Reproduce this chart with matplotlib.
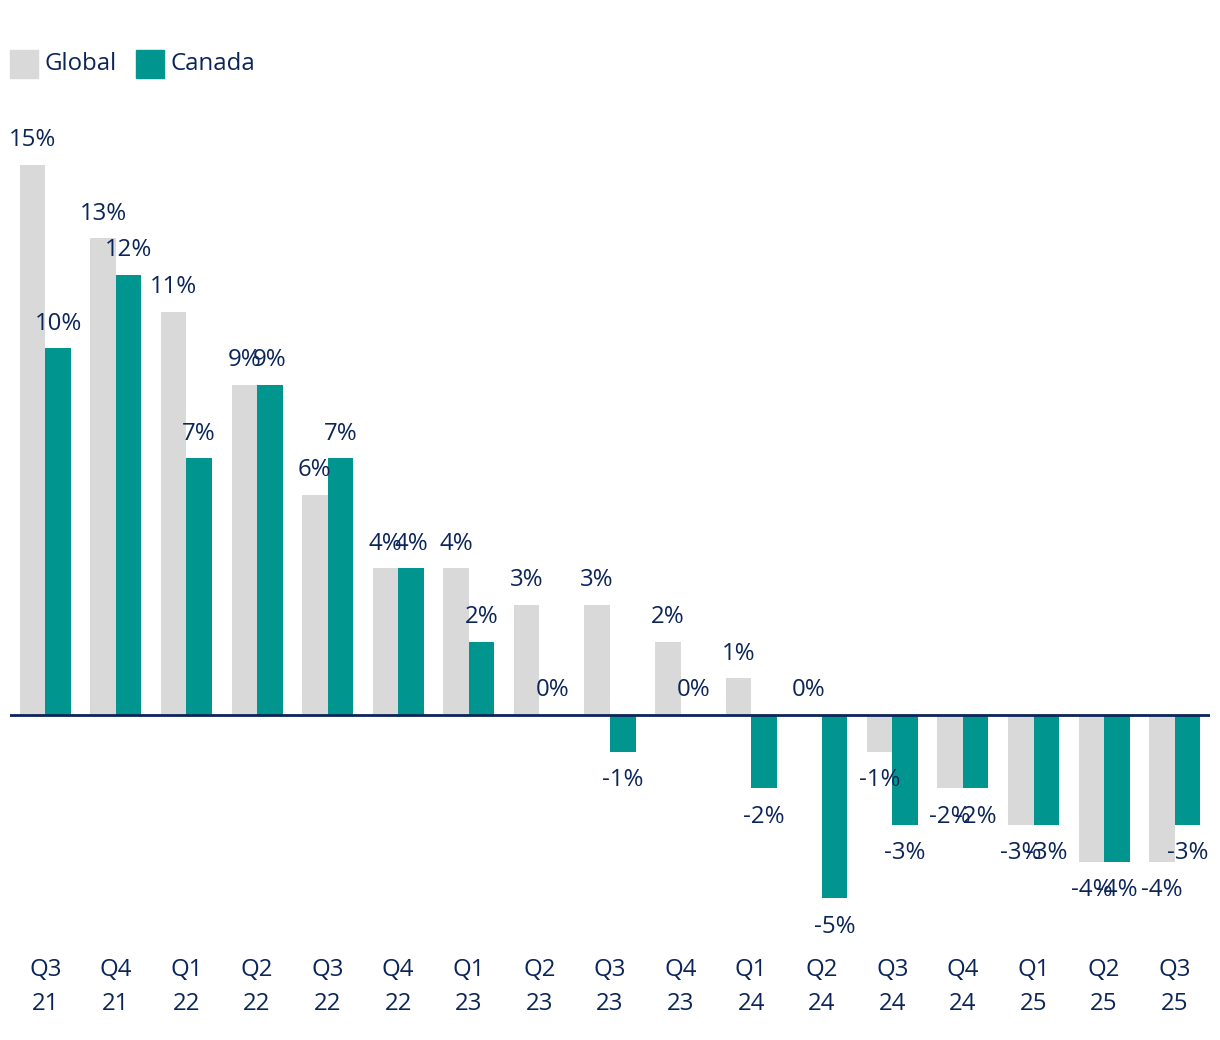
import matplotlib.pyplot as plt
import matplotlib.transforms as mtransforms
from matplotlib.patches import Rectangle
import numpy as np

quarters = ['Q3', 'Q4', 'Q1', 'Q2', 'Q3', 'Q4', 'Q1', 'Q2', 'Q3', 'Q4', 'Q1', 'Q2', 'Q3', 'Q4', 'Q1', 'Q2', 'Q3']
years = ['21', '21', '22', '22', '22', '22', '23', '23', '23', '23', '24', '24', '24', '24', '25', '25', '25']
global_vals = [15, 13, 11, 9, 6, 4, 4, 3, 3, 2, 1, 0, -1, -2, -3, -4, -4]
canada_vals = [10, 12, 7, 9, 7, 4, 2, 0, -1, 0, -2, -5, -3, -2, -3, -4, -3]

navy = '#0b2559'
teal = '#00968f'
grey = '#d9d9d9'
plt.rcParams['font.family'] = ['Open Sans', 'DejaVu Sans']
fs = 17.3

W, H = 1220, 1040
fig = plt.figure(figsize=(W / 100, H / 100), dpi=100)
ax = fig.add_axes([10 / W, (H - 940) / H, 1200 / W, 840 / H])

x = np.arange(len(quarters))
bw = 0.362
ax.bar(x - bw / 2, global_vals, bw, color=grey)
ax.bar(x + bw / 2, canada_vals, bw, color=teal)
ax.axhline(0, color=navy, lw=2)

ax.set_xlim(-0.5, 16.5)
ax.set_ylim(-(940 - 715) / 36.67, (715 - 100) / 36.67)
ax.axis('off')

# value labels
for vals, off in [(global_vals, -bw / 2), (canada_vals, bw / 2)]:
    for i, v in enumerate(vals):
        dy = 17.8 if v >= 0 else -20.5
        ax.annotate(f'{v}%', (i + off, v), xytext=(0, dy), textcoords='offset points',
                    ha='center', va='center', fontsize=fs, color=navy)

# two-line quarter labels below the chart
tr = mtransforms.blended_transform_factory(ax.transData, fig.transFigure)
for i in range(len(quarters)):
    ax.text(i, 1 - 970.5 / H, quarters[i], transform=tr,
            ha='center', va='center', fontsize=fs, color=navy)
    ax.text(i, 1 - 1003.5 / H, years[i], transform=tr,
            ha='center', va='center', fontsize=fs, color=navy)

# legend
fig.patches.append(Rectangle((10 / W, 1 - 78 / H), 28 / W, 28 / H, color=grey, transform=fig.transFigure))
fig.text(45 / W, 1 - 64.5 / H, 'Global', fontsize=fs, color=navy, va='center')
fig.patches.append(Rectangle((136 / W, 1 - 78 / H), 28 / W, 28 / H, color=teal, transform=fig.transFigure))
fig.text(171 / W, 1 - 64.5 / H, 'Canada', fontsize=fs, color=navy, va='center')

fig.savefig('out.png', dpi=100)
